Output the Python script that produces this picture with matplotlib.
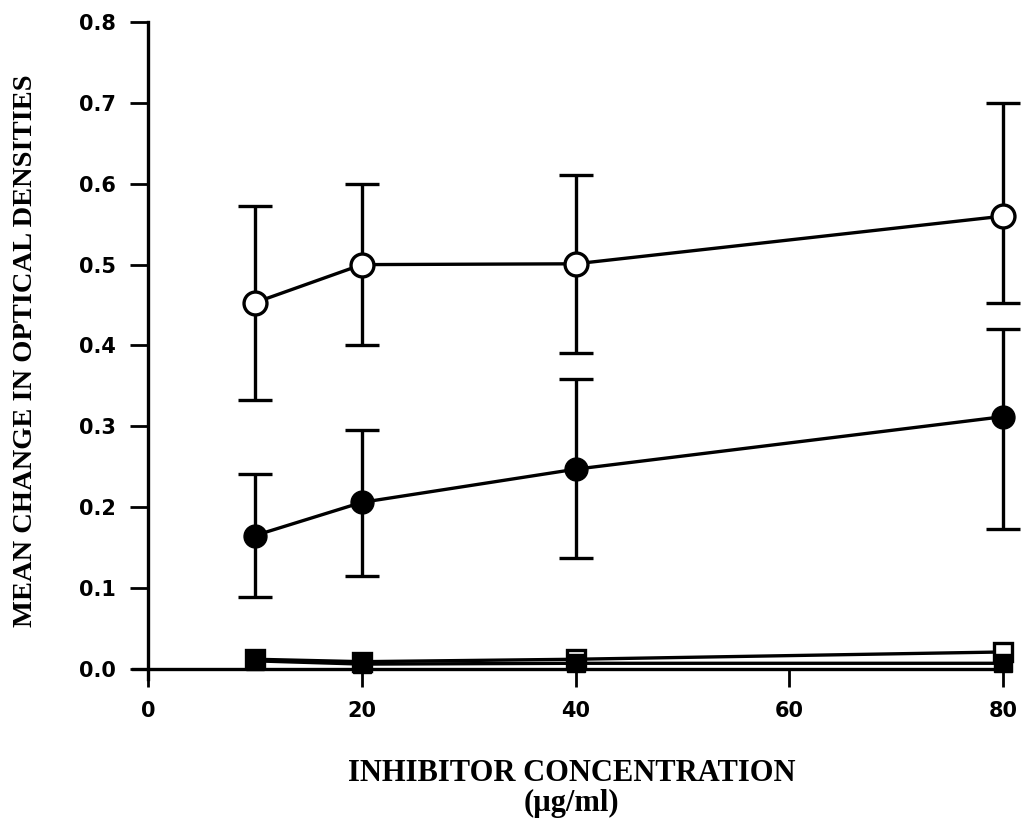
import matplotlib.pyplot as plt

plt.rcParams['font.family'] = ['Liberation Serif', 'DejaVu Serif']

conc = [10, 20, 40, 80]

open_circle = [0.453, 0.500, 0.501, 0.560]
open_circle_hi = [0.120, 0.100, 0.110, 0.140]
open_circle_lo = [0.120, 0.100, 0.110, 0.108]

filled_circle = [0.165, 0.206, 0.247, 0.312]
filled_circle_hi = [0.076, 0.090, 0.111, 0.108]
filled_circle_lo = [0.076, 0.091, 0.110, 0.139]

open_square = [0.012, 0.009, 0.012, 0.021]
filled_square = [0.010, 0.006, 0.007, 0.007]

x_ticks = [0, 20, 40, 60, 80]
y_ticks = [0.0, 0.1, 0.2, 0.3, 0.4, 0.5, 0.6, 0.7, 0.8]
y_tick_labels = ['0.0', '0.1', '0.2', '0.3', '0.4', '0.5', '0.6', '0.7', '0.8']

fig = plt.figure(figsize=(10.24, 8.34), dpi=100)
ax = fig.add_axes([0.130, 0.1853, 0.8496, 0.7883])

lw = 2.4
for line in [
    ax.errorbar(conc, open_circle, yerr=[open_circle_lo, open_circle_hi], color='black',
                lw=lw, elinewidth=lw, capsize=12, capthick=lw, marker='o', ms=16.5,
                mfc='white', mec='black', mew=2.4, zorder=3),
    ax.errorbar(conc, filled_circle, yerr=[filled_circle_lo, filled_circle_hi], color='black',
                lw=lw, elinewidth=lw, capsize=12, capthick=lw, marker='o', ms=16.5,
                mfc='black', mec='black', zorder=3),
]:
    for art in line.get_children():
        art.set_clip_on(False)

ax.plot(conc, open_square, color='black', lw=lw, marker='s', ms=12.5,
        mfc='white', mec='black', mew=2.4, zorder=4, clip_on=False)
ax.plot(conc, filled_square, color='black', lw=lw, marker='s', ms=12.5,
        mfc='black', mec='black', zorder=4, clip_on=False)

ax.set_xlim(-1.4, 80)
ax.set_ylim(-0.013, 0.8)
ax.spines['top'].set_visible(False)
ax.spines['right'].set_visible(False)
ax.spines['left'].set_position(('data', 0))
ax.spines['bottom'].set_position(('data', 0))
ax.spines['left'].set_linewidth(2.4)
ax.spines['bottom'].set_linewidth(2.4)

ax.set_xticks(x_ticks)
ax.set_yticks(y_ticks)
ax.set_yticklabels(y_tick_labels)
ax.tick_params(axis='both', direction='out', length=13, width=2, pad=10)
for lab in ax.get_xticklabels() + ax.get_yticklabels():
    lab.set_family(['DejaVu Sans'])
    lab.set_fontweight('bold')
    lab.set_fontsize(15)

fig.text(0.558, 0.0731, 'INHIBITOR CONCENTRATION', ha='center', va='center',
         fontsize=22, fontweight='bold')
fig.text(0.558, 0.0372, '(\u00b5g/ml)', ha='center', va='center',
         fontsize=22, fontweight='bold')
fig.text(0.025, 0.58, 'MEAN CHANGE IN OPTICAL DENSITIES', ha='center', va='center',
         rotation=90, fontsize=20.5, fontweight='bold')

fig.savefig('out.png', dpi=100)
